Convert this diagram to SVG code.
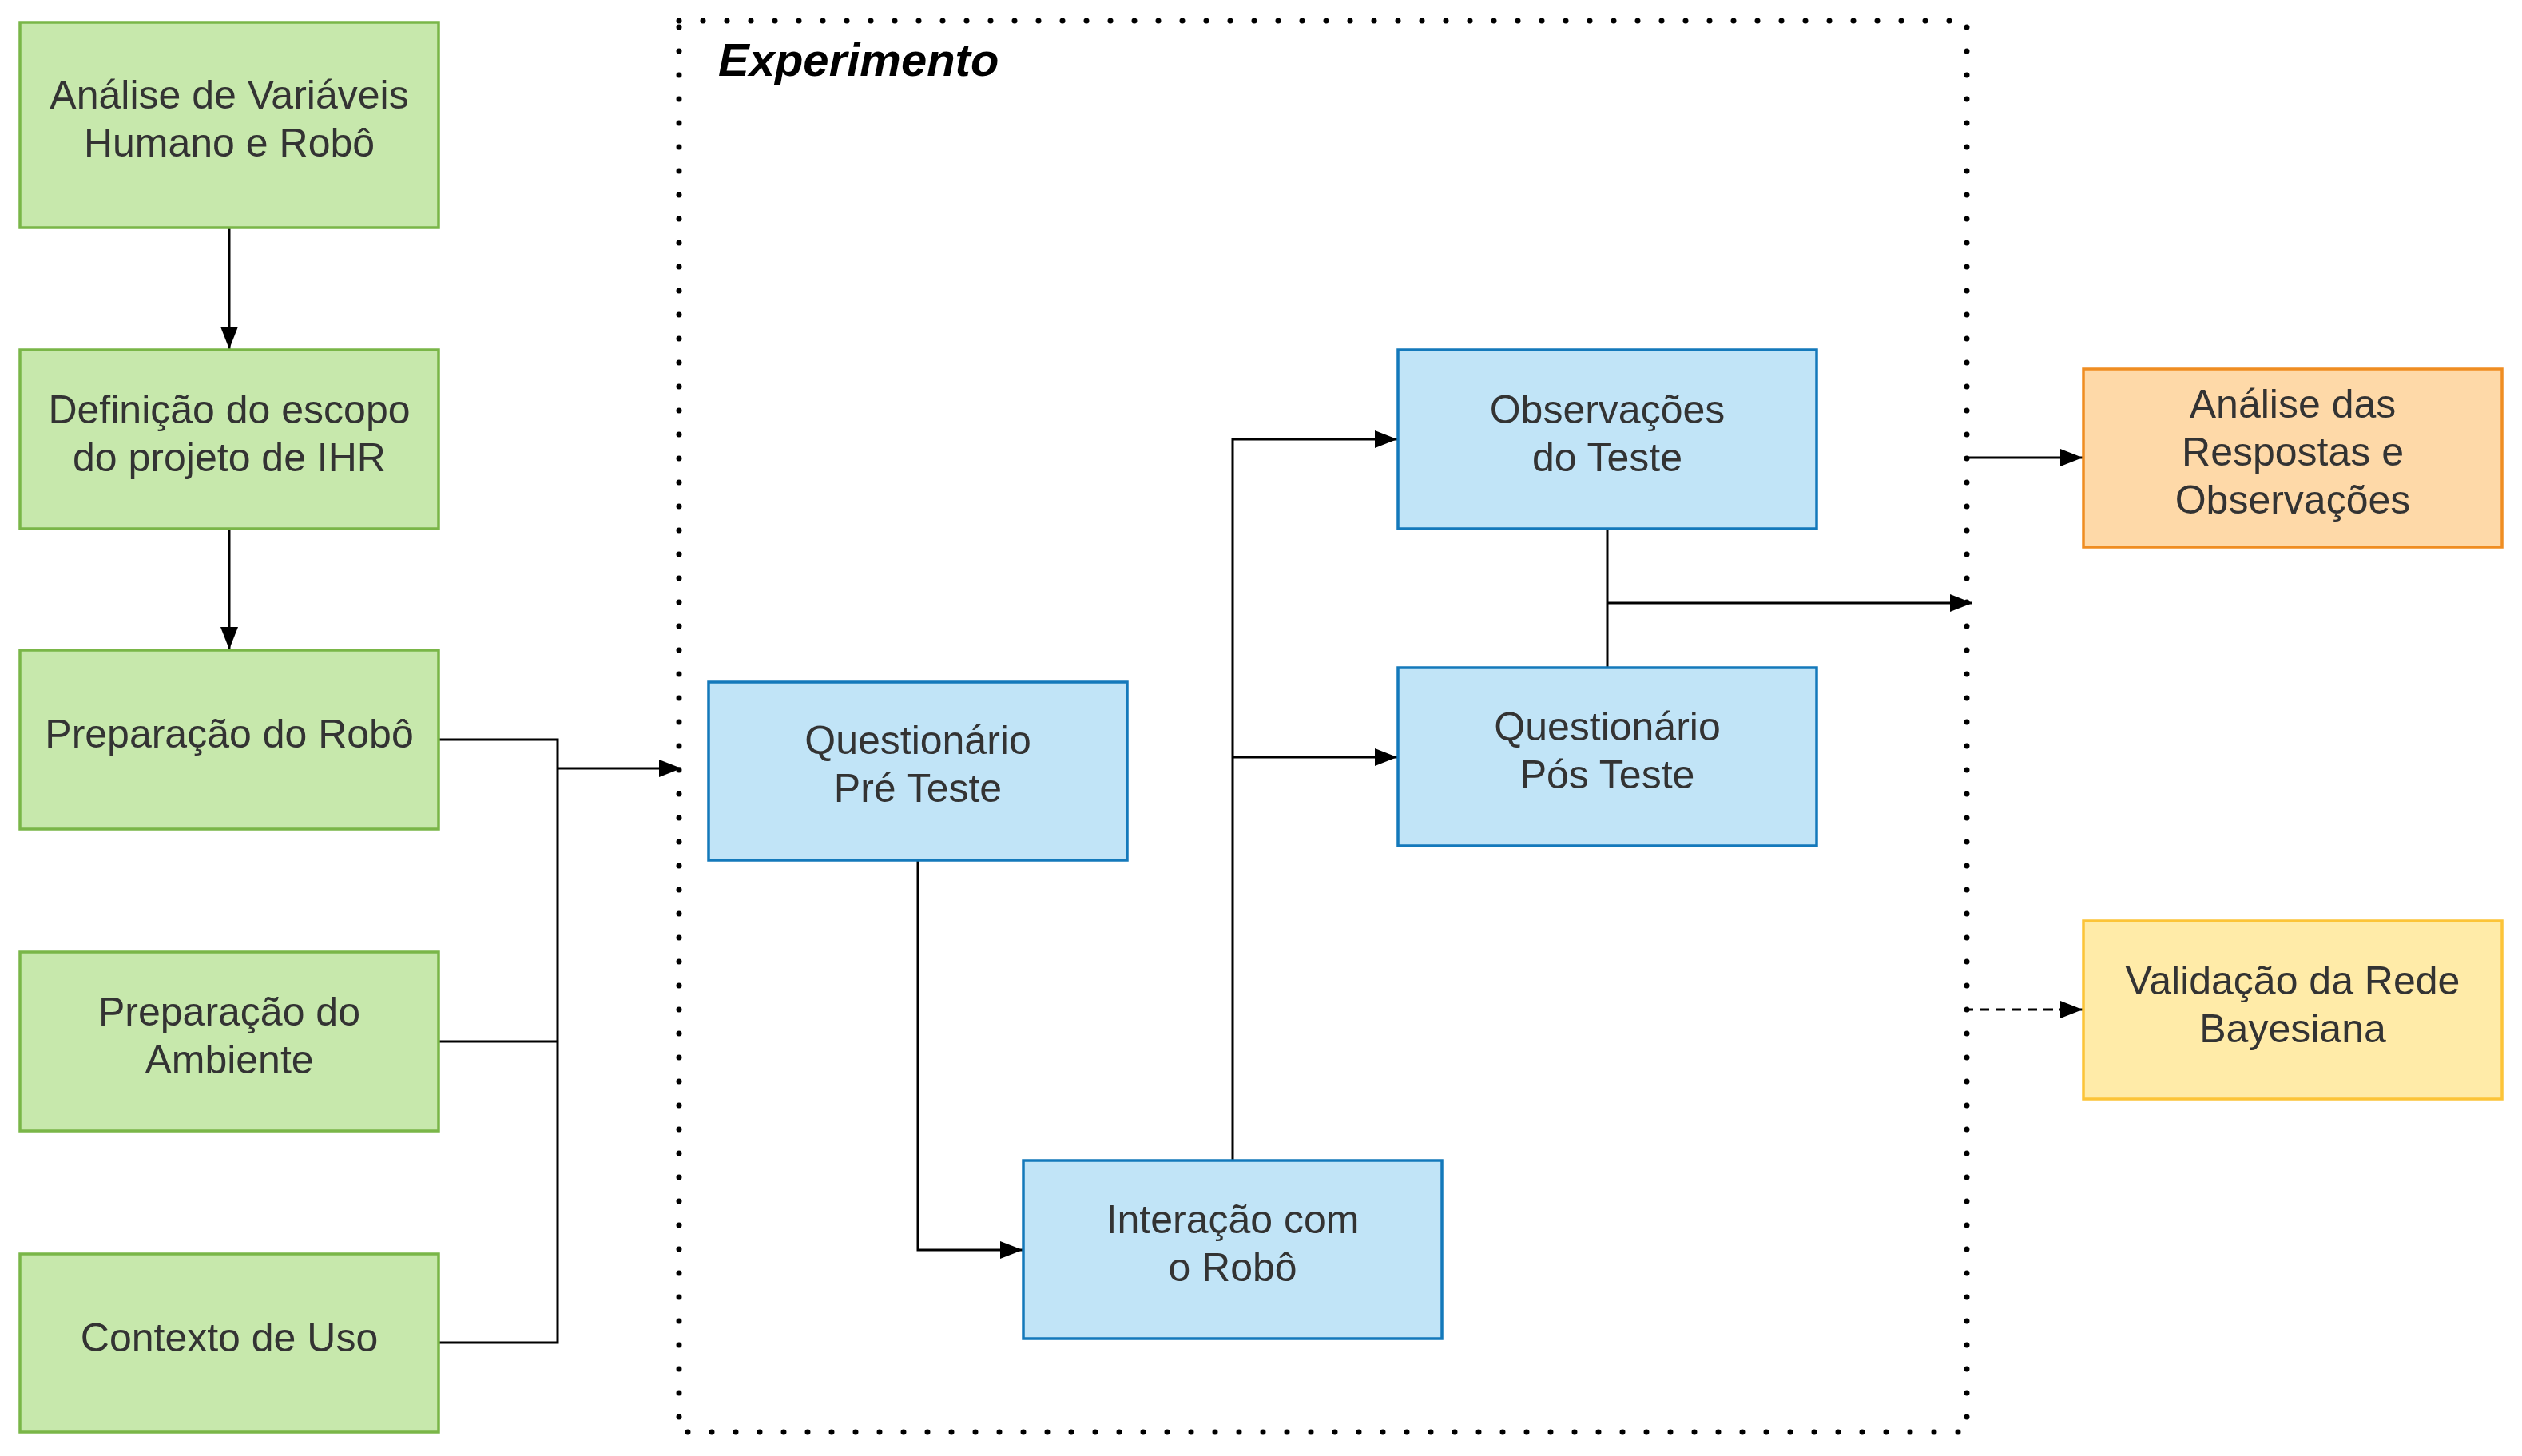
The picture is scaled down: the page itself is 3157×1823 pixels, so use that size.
<svg xmlns="http://www.w3.org/2000/svg" width="3157" height="1823" viewBox="0 0 3157 1823">
<style>
.g{fill:#c7e8ac;stroke:#7ab648;stroke-width:3.5}
.b{fill:#c1e4f7;stroke:#1479bb;stroke-width:3.5}
.o{fill:#fed9a8;stroke:#ef8d22;stroke-width:3.5}
.y{fill:#ffeba8;stroke:#fcc438;stroke-width:3.5}
.t{font-family:"Liberation Sans",Arial,sans-serif;font-size:50px;fill:#333333;text-anchor:middle}
.c{fill:none;stroke:#000;stroke-width:3}
.a{marker-end:url(#ah)}
</style>
<defs>
<marker id="ah" markerUnits="userSpaceOnUse" markerWidth="30" markerHeight="24" refX="28" refY="11" orient="auto" viewBox="0 0 30 24">
<path d="M0,0 L28,11 L0,22 Z" fill="#000" stroke="none"/>
</marker>
</defs>
<rect width="3157" height="1823" fill="#ffffff"/>
<g id="container">
<rect x="850" y="26" width="1612" height="1767" fill="none" stroke="#000" stroke-width="7" stroke-dasharray="0 30" stroke-linecap="round"/>
<text x="899" y="95" font-family="'Liberation Sans',Arial,sans-serif" font-size="58" font-weight="bold" font-style="italic" fill="#000">Experimento</text>
</g>
<g id="connectors">
<path class="c a" d="M287,286 V437"/>
<path class="c a" d="M287,662 V813"/>
<path class="c" d="M550,926 H698 V1681 H550 M550,1304 H698"/>
<path class="c a" d="M698,962 H853"/>
<path class="c a" d="M1149,1077 V1565 H1280"/>
<path class="c a" d="M1543,1453 V550 H1749"/>
<path class="c a" d="M1543,948 H1749"/>
<path class="c" d="M2012,662 V836"/>
<path class="c a" d="M2012,755 H2469"/>
<path class="c a" d="M2458,573 H2607"/>
<path class="c a" d="M2458,1264 H2607" stroke-dasharray="12 8"/>
</g>
<g id="n1"><rect class="g" x="25" y="28" width="524" height="257"/><text class="t" x="287" y="136">Análise de Variáveis</text><text class="t" x="287" y="196">Humano e Robô</text></g>
<g id="n2"><rect class="g" x="25" y="438" width="524" height="224"/><text class="t" x="287" y="530">Definição do escopo</text><text class="t" x="287" y="590">do projeto de IHR</text></g>
<g id="n3"><rect class="g" x="25" y="814" width="524" height="224"/><text class="t" x="287" y="936">Preparação do Robô</text></g>
<g id="n4"><rect class="g" x="25" y="1192" width="524" height="224"/><text class="t" x="287" y="1284">Preparação do</text><text class="t" x="287" y="1344">Ambiente</text></g>
<g id="n5"><rect class="g" x="25" y="1570" width="524" height="223"/><text class="t" x="287" y="1692">Contexto de Uso</text></g>
<g id="n6"><rect class="b" x="887" y="854" width="524" height="223"/><text class="t" x="1149" y="944">Questionário</text><text class="t" x="1149" y="1004">Pré Teste</text></g>
<g id="n7"><rect class="b" x="1281" y="1453" width="524" height="223"/><text class="t" x="1543" y="1544">Interação com</text><text class="t" x="1543" y="1604">o Robô</text></g>
<g id="n8"><rect class="b" x="1750" y="438" width="524" height="224"/><text class="t" x="2012" y="530">Observações</text><text class="t" x="2012" y="590">do Teste</text></g>
<g id="n9"><rect class="b" x="1750" y="836" width="524" height="223"/><text class="t" x="2012" y="927">Questionário</text><text class="t" x="2012" y="987">Pós Teste</text></g>
<g id="n10"><rect class="o" x="2608" y="462" width="524" height="223"/><text class="t" x="2870" y="523">Análise das</text><text class="t" x="2870" y="583">Respostas e</text><text class="t" x="2870" y="643">Observações</text></g>
<g id="n11"><rect class="y" x="2608" y="1153" width="524" height="223"/><text class="t" x="2870" y="1245">Validação da Rede</text><text class="t" x="2870" y="1305">Bayesiana</text></g>
</svg>
